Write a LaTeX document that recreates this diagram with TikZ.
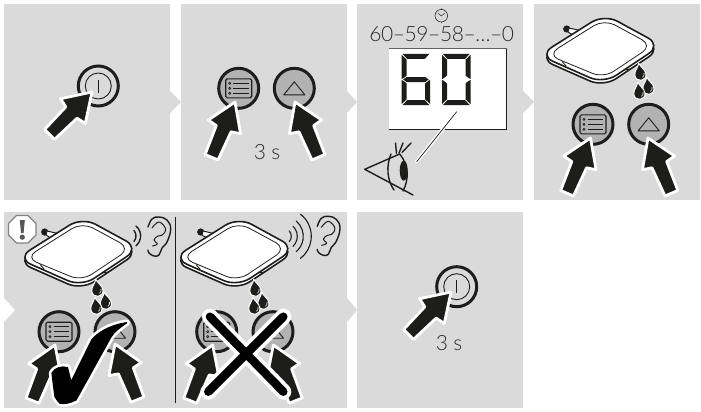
\documentclass[tikz,border=0pt]{standalone}
\usepackage{fontspec}
\usetikzlibrary{calc}
\setmainfont{Lato}
\newfontfamily\lightf[LetterSpace=-2]{Lato Light}
\definecolor{panel}{HTML}{DADADA}
\definecolor{btn}{HTML}{B2B2B2}
\definecolor{ink}{HTML}{1D1D1B}
\definecolor{txt}{HTML}{2B2B2A}
\tikzset{
  panelbox/.style={fill=panel,draw=none},
  lbl/.style={font=\lightf\fontsize{21}{24}\selectfont,text=txt,inner sep=0pt},
  chev/.style={fill=panel,draw=none},
  arrowhalo/.style={fill=ink,draw=white,line width=2.8pt,line join=round},
  ringline/.style={draw=ink,line width=3pt},
  thinline/.style={draw=ink,line width=0.9pt},
  segm/.style={fill=ink,draw=none},
  padline/.style={draw=ink,line width=1.6pt,fill=white,rounded corners=15pt,line join=round},
  curve/.style={draw=ink,line width=1.4pt,line cap=round,line join=round},
}
\newcommand\pressarrow[3]{\begin{scope}[shift={(#1,#2)},rotate=#3]
  \path[arrowhalo] (0,0)--(17.5,27)--(8,29)--(7,60)--(-7,60)--(-8,29)--(-17.5,27)--cycle;
\end{scope}}
\newcommand\menubtn[2]{\begin{scope}[shift={(#1,#2)}]
  \path[ringline,fill=btn] (0,0) circle[radius=20];
  \path[draw=ink,line width=1.1pt,rounded corners=1.5pt,fill=btn] (-13,-9.5) rectangle (13,9.5);
  \foreach \yy in {-5,0,5}{
    \path[thinline] (-5.5,\yy)--(10,\yy);
    \path[draw=ink,line width=0.6pt] (-9,\yy) circle[radius=1.1];
  }
\end{scope}}
\newcommand\upbtn[2]{\begin{scope}[shift={(#1,#2)}]
  \path[ringline,fill=btn] (0,0) circle[radius=20];
  \path[thinline,line join=round] (-10.5,6.5)--(0,-6.5)--(10.5,6.5)--cycle;
\end{scope}}
\newcommand\powerbtn[2]{\begin{scope}[shift={(#1,#2)}]
  \path[ringline,fill=panel] (0,0) circle[radius=20];
  \path[thinline] (0,0) circle[radius=13];
  \path[thinline] (0,-6.5)--(0,6.5);
\end{scope}}
\newcommand\padshape[2]{\begin{scope}[shift={(#1,#2)}]
  \path[fill=ink] (-33.3,-20) circle[radius=3.6];
  \path[draw=ink,fill=white,line width=1pt,line join=round] (-32,-17)--(-24,-12)--(-18,-18)--(-31,-21)--cycle;
  \path[padline] (-60.9,9.5)--(4.3,-31.6)--(61.3,-0.5)--(3.5,38)--cycle;
  \path[padline] (-60.9,6.2)--(4.3,-34.9)--(61.3,-3.8)--(3.5,34.7)--cycle;
  \path[draw=ink,line width=0.8pt,rounded corners=12pt] (-52.5,5.8)--(4.2,-29.8)--(52.5,-3.6)--(3.6,29)--cycle;
  \path[draw=ink,line width=0.9pt] (-38,12.5)--(-34,17) (30,20)--(24,21);
\end{scope}}
\newcommand\dropshape[2]{\begin{scope}[shift={(#1,#2)},rotate=8,scale=1.12]
  \path[fill=ink,draw=white,line width=1pt,line join=round] (0,-8) .. controls (1,-4) and (5,-2) .. (5,2.5) .. controls (5,5.5) and (2.7,7.5) .. (0,7.5) .. controls (-2.7,7.5) and (-5,5.5) .. (-5,2.5) .. controls (-5,-2) and (-1,-4) .. (0,-8) -- cycle;
  \path[draw=white,line width=0.6pt] (1.5,5) .. controls (3,4.3) and (3.5,3) .. (3.4,1.5);
\end{scope}}
\newcommand\earshape[2]{\begin{scope}[shift={(#1,#2)}]
  \path[curve] plot[smooth,tension=0.7] coordinates {(-11,-10) (-7,-18) (0,-20) (8,-17) (11.7,-8) (8,5) (3,11) (0,18) (-5,19) (-10,16) (-11,13)};
  \path[curve,line width=1pt] plot[smooth,tension=0.7] coordinates {(-7,-9) (0,-15) (6.7,-8) (3.3,-2) (-1,-1) (-5,3) (-1.7,7) (-6.7,9)};
\end{scope}}
\newcommand\sega[2]{\path[segm] (#1+1,#2)--(#1+27.5,#2)--(#1+23,#2+5)--(#1+5.5,#2+5)--cycle;}
\newcommand\segd[2]{\path[segm] (#1+1,#2+51)--(#1+27.5,#2+51)--(#1+23,#2+46)--(#1+5.5,#2+46)--cycle;}
\newcommand\segf[2]{\path[segm] (#1,#2+1)--(#1+5,#2+5.7)--(#1+5,#2+21.5)--(#1+2,#2+24)--(#1,#2+25)--cycle;}
\newcommand\sege[2]{\path[segm] (#1,#2+26)--(#1+2,#2+27)--(#1+5,#2+29.5)--(#1+5,#2+45.3)--(#1,#2+50)--cycle;}
\newcommand\segb[2]{\path[segm] (#1+28.5,#2+1)--(#1+23.5,#2+5.7)--(#1+23.5,#2+21.5)--(#1+26.5,#2+24)--(#1+28.5,#2+25)--cycle;}
\newcommand\segc[2]{\path[segm] (#1+28.5,#2+26)--(#1+26.5,#2+27)--(#1+23.5,#2+29.5)--(#1+23.5,#2+45.3)--(#1+28.5,#2+50)--cycle;}
\newcommand\segg[2]{\path[segm] (#1+1.5,#2+25.5)--(#1+5,#2+23)--(#1+23.5,#2+23)--(#1+27,#2+25.5)--(#1+23.5,#2+28)--(#1+5,#2+28)--cycle;}
\begin{document}
\begin{tikzpicture}[x=1pt,y=-1pt]
\useasboundingbox (0,0) rectangle (701,412);
\path[fill=white] (0,0) rectangle (701,412);
% panels
\path[panelbox] (4,4) rectangle (170,200);
\path[panelbox] (181,4) rectangle (347,200);
\path[panelbox] (357,4) rectangle (523,200);
\path[panelbox] (534,4) rectangle (700,200);
\path[panelbox] (4,212) rectangle (347,408);
\path[panelbox] (357,212) rectangle (523,408);
% chevrons
\path[chev] (170,91)--(181,102)--(170,113)--cycle;
\path[chev] (347,91)--(357,102)--(347,113)--cycle;
\path[chev] (523,91)--(534,102)--(523,113)--cycle;
\path[chev] (347,298)--(357,310)--(347,322)--cycle;
\path[fill=white] (4,298)--(15,310)--(4,322)--cycle;
% panel 1
\powerbtn{98.3}{86}
\pressarrow{92}{92}{-45}
% panel 2
\menubtn{238.7}{88.3}
\upbtn{294.3}{88.3}
\pressarrow{235}{102}{-23}
\pressarrow{295}{102}{23}
\node[lbl] (sec2) at (267,152) {3 s};
% panel 3
\path[draw=txt,line width=0.6pt] (441.3,15.7) circle[radius=6.3];
\path[draw=txt,line width=0.5pt] (441.3,16)--(438,13) (441.3,16)--(445,13) (441.3,8.4)--(441.3,9.6) (441.3,22)--(441.3,23);
\node[lbl] (count) at (441.7,34) {60–59–58–…–0};
\path[fill=white] (388.5,48) rectangle (506.5,129);
\path[draw=ink,line width=0.7pt] (388.5,129)--(506.5,129)--(506.5,48);
\path[draw=ink!70,line width=0.3pt] (388.5,48)--(506.5,48);
\sega{401.7}{54}\segf{401.7}{54}\segg{401.7}{54}\sege{401.7}{54}\segc{401.7}{54}\segd{401.7}{54}
\sega{442}{54}\segb{442}{54}\segc{442}{54}\segd{442}{54}\sege{442}{54}\segf{442}{54}
\path[draw=white,line width=3.4pt,line cap=round] (456.7,111.7)--(416.7,161.7);
\path[draw=ink,line width=0.7pt] (456.7,111.7)--(416.7,161.7);
% eye
\path[curve] (399.7,154)--(364.7,169.3)--(413,195);
\path[curve] (391,154) .. controls (386,166) and (387,180) .. (394,190);
\path[curve] (399.7,154) .. controls (409,165) and (409,180) .. (403,191);
\path[fill=ink] (403.7,170.7) ellipse[x radius=4,y radius=10];
\path[curve] (396.5,153.5)--(395.5,143) (399,153)--(403,143) (402,152.5)--(411,143);
% panel 4
\padshape{600}{49}
\dropshape{640}{72}\dropshape{648}{86}\dropshape{639}{91}
\menubtn{593}{124.3}
\upbtn{648.7}{124.3}
\pressarrow{590.5}{138}{-23}
\pressarrow{648}{138}{23}
% panel 5 left
\padshape{78}{252}
\dropshape{97}{288}\dropshape{105.5}{301}\dropshape{96}{306}
\path[curve] (134,230.5) arc[start angle=-40,end angle=40,radius=8.5];
\path[curve] (136,226) arc[start angle=-50,end angle=50,radius=13];
\earshape{159}{237}
\menubtn{59}{331.7}
\upbtn{115}{331.7}
\pressarrow{55}{345}{-22}
\pressarrow{115}{344}{22}
\path[fill=black,draw=white,line width=6.5pt,line join=round]
  (52,373) .. controls (55,368) and (61,366) .. (67.5,367.5)--(71,382)--(91.7,340) .. controls (97,333) and (110,325) .. (126.7,322.7) .. controls (118,329) and (114,332) .. (111,337)--(76,400) .. controls (70,403) and (65,404) .. (60,403.3) .. controls (58,401) and (56,399) .. (55,396.7) .. controls (54,390) and (53,382) .. (52,373)--cycle;
\path[fill=black,draw=black,line width=1.2pt,line join=round]
  (52,373) .. controls (55,368) and (61,366) .. (67.5,367.5)--(71,382)--(91.7,340) .. controls (97,333) and (110,325) .. (126.7,322.7) .. controls (118,329) and (114,332) .. (111,337)--(76,400) .. controls (70,403) and (65,404) .. (60,403.3) .. controls (58,401) and (56,399) .. (55,396.7) .. controls (54,390) and (53,382) .. (52,373)--cycle;
% warning sign
\path[fill=white,draw=ink!55,line width=1.4pt,line join=round] (16.5,215.5)--(28,215.5)--(36,223.5)--(36,235)--(28,243)--(16.5,243)--(8.5,235)--(8.5,223.5)--cycle;
\path[fill=ink!75] (19.8,220)--(24.8,220)--(23.6,233)--(21,233)--cycle;
\path[fill=ink!75] (22.3,237.2) circle[radius=2.6];
% divider
\path[draw=ink,line width=0.9pt] (175.3,216.7)--(175.3,403);
% panel 5 right
\padshape{234}{252}
\dropshape{255}{288}\dropshape{263}{301}\dropshape{254}{306}
\foreach \rr/\aa in {8/42,14/46,20/50,28/52}{
  \path[curve,line width=1.1pt] ($(283.3,236.3)+(-\aa:\rr)$) arc[start angle=-\aa,end angle=\aa,radius=\rr];
}
\earshape{328.3}{236.3}
\menubtn{216.7}{331.7}
\upbtn{273}{331.7}
\pressarrow{212.7}{345}{-22}
\pressarrow{273.3}{345}{22}
\path[draw=white,line width=16pt,line cap=round] (210,316.7)--(283.3,391.7) (283.3,316.7)--(208.3,391.7);
\path[draw=black,line width=8.5pt,line cap=round] (210,316.7)--(283.3,391.7) (283.3,316.7)--(208.3,391.7);
% panel 6
\powerbtn{456.7}{286.7}
\pressarrow{451}{292}{-45}
\node[lbl] (sec6) at (449,343) {3 s};
\end{tikzpicture}
\end{document}
